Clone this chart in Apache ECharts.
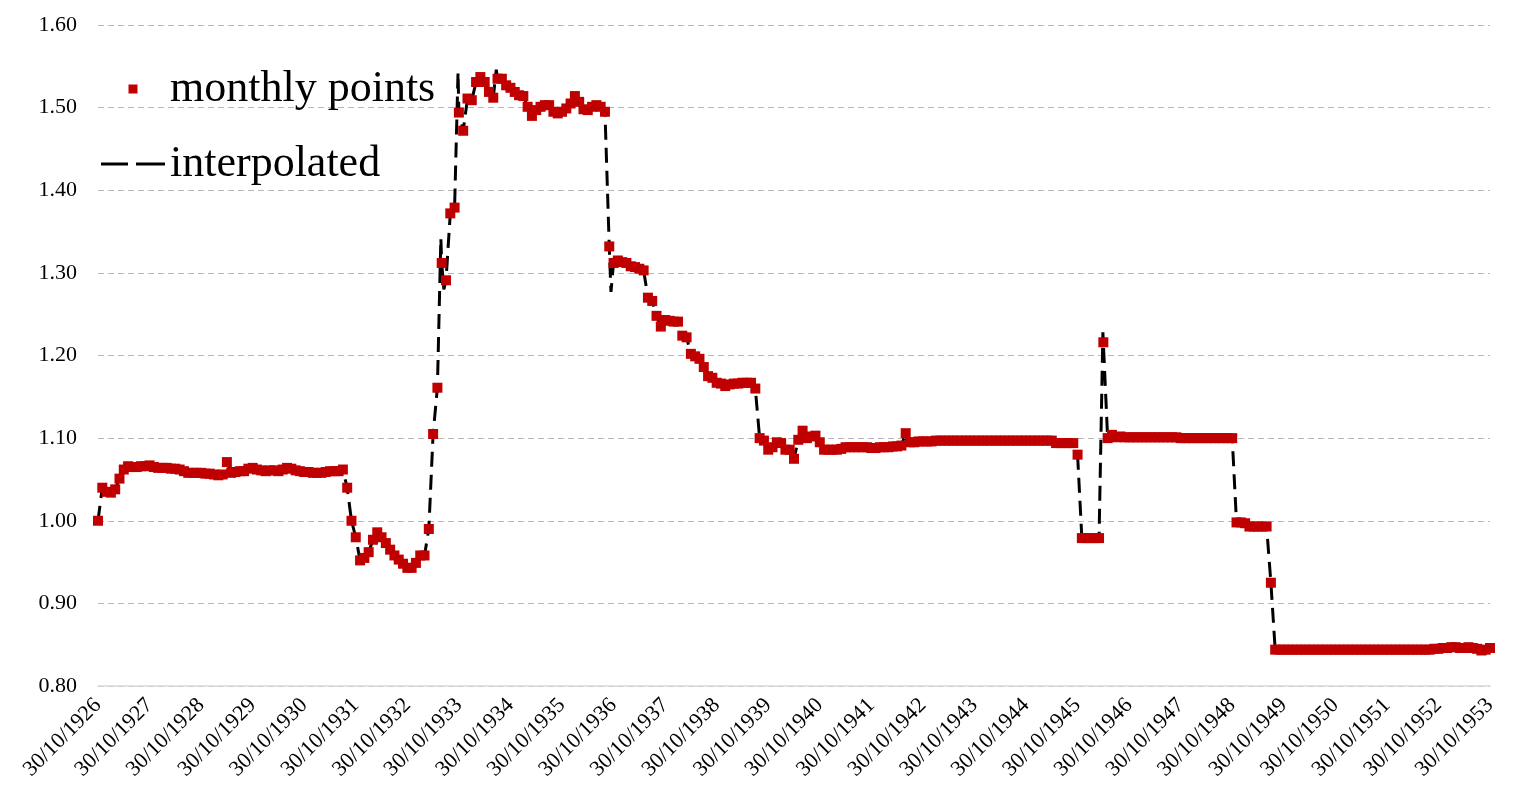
<!DOCTYPE html>
<html>
<head>
<meta charset="utf-8">
<script src="https://cdn.jsdelivr.net/npm/echarts@6/dist/echarts.min.js"></script>
<style>
html,body{margin:0;padding:0;background:#fff;}
#chart{width:1536px;height:809px;}
</style>
</head>
<body>
<div id="chart"></div>
<script>
// Tick labels for the x axis (one per year, every 12 months)
const yearLabels = [
  '30/10/1926','30/10/1927','30/10/1928','30/10/1929','30/10/1930','30/10/1931','30/10/1932',
  '30/10/1933','30/10/1934','30/10/1935','30/10/1936','30/10/1937','30/10/1938','30/10/1939',
  '30/10/1940','30/10/1941','30/10/1942','30/10/1943','30/10/1944','30/10/1945','30/10/1946',
  '30/10/1947','30/10/1948','30/10/1949','30/10/1950','30/10/1951','30/10/1952','30/10/1953'
];

// Monthly points, starting 30/10/1926, one value per month (Oct..Sep rows)
const monthlyPoints = [
  1.000,1.040,1.035,1.034,1.038,1.051,1.062,1.066,1.065,1.065,1.066,1.066, // 1926-27
  1.067,1.065,1.064,1.064,1.064,1.063,1.063,1.062,1.060,1.058,1.058,1.058, // 1927-28
  1.058,1.057,1.057,1.056,1.055,1.056,1.071,1.058,1.059,1.060,1.060,1.063, // 1928-29
  1.064,1.062,1.061,1.060,1.061,1.061,1.060,1.062,1.064,1.063,1.061,1.060, // 1929-30
  1.059,1.059,1.058,1.058,1.058,1.059,1.060,1.060,1.060,1.062,1.040,1.000, // 1930-31
  0.980,0.952,0.955,0.962,0.977,0.986,0.980,0.973,0.965,0.958,0.953,0.948, // 1931-32
  0.943,0.943,0.949,0.958,0.958,0.990,1.105,1.161,1.312,1.291,1.372,1.379, // 1932-33
  1.494,1.472,1.511,1.509,1.531,1.537,1.531,1.519,1.512,1.535,1.535,1.527, // 1933-34
  1.524,1.519,1.515,1.514,1.501,1.490,1.497,1.501,1.503,1.503,1.495,1.493, // 1934-35
  1.495,1.499,1.505,1.514,1.507,1.498,1.497,1.501,1.503,1.501,1.495,1.332, // 1935-36
  1.312,1.315,1.313,1.312,1.308,1.307,1.305,1.303,1.270,1.266,1.248,1.235, // 1936-37
  1.243,1.242,1.241,1.241,1.224,1.222,1.202,1.199,1.196,1.186,1.175,1.173, // 1937-38
  1.167,1.166,1.163,1.165,1.166,1.166,1.167,1.167,1.167,1.160,1.100,1.097, // 1938-39
  1.086,1.089,1.095,1.094,1.086,1.086,1.075,1.098,1.109,1.100,1.102,1.103, // 1939-40
  1.095,1.086,1.086,1.086,1.086,1.087,1.089,1.089,1.089,1.089,1.089,1.089, // 1940-41
  1.088,1.088,1.089,1.089,1.089,1.090,1.090,1.091,1.106,1.095,1.095,1.096, // 1941-42
  1.096,1.096,1.096,1.097,1.097,1.097,1.097,1.097,1.097,1.097,1.097,1.097, // 1942-43
  1.097,1.097,1.097,1.097,1.097,1.097,1.097,1.097,1.097,1.097,1.097,1.097, // 1943-44
  1.097,1.097,1.097,1.097,1.097,1.097,1.097,1.094,1.094,1.094,1.094,1.094, // 1944-45
  1.080,0.979,0.979,0.979,0.979,0.979,1.216,1.100,1.104,1.101,1.102,1.101, // 1945-46
  1.101,1.101,1.101,1.101,1.101,1.101,1.101,1.101,1.101,1.101,1.101,1.101, // 1946-47
  1.100,1.100,1.100,1.100,1.100,1.100,1.100,1.100,1.100,1.100,1.100,1.100, // 1947-48
  1.100,0.998,0.998,0.997,0.993,0.993,0.993,0.993,0.993,0.925,0.844,0.844, // 1948-49
  0.844,0.844,0.844,0.844,0.844,0.844,0.844,0.844,0.844,0.844,0.844,0.844, // 1949-50
  0.844,0.844,0.844,0.844,0.844,0.844,0.844,0.844,0.844,0.844,0.844,0.844, // 1950-51
  0.844,0.844,0.844,0.844,0.844,0.844,0.844,0.844,0.844,0.844,0.844,0.845, // 1951-52
  0.845,0.846,0.846,0.847,0.847,0.846,0.846,0.847,0.846,0.845,0.843,0.844, // 1952-53
  0.846                                                                    // 30/10/1953
];

// Extra turning points of the dashed interpolated line (month index, value)
const interpolatedExtremes = [
  [79.8, 1.342], [80.5, 1.280], [83.8, 1.543], [92.7, 1.546], [119.4, 1.277], [233.9, 1.228]
];

const pointData = monthlyPoints.map((v, i) => [i, v]);
const lineData = pointData.concat(interpolatedExtremes).sort((a, b) => a[0] - b[0]);

const FONT = 'Liberation Serif';
const chart = echarts.init(document.getElementById('chart'));
chart.setOption({
  backgroundColor: '#ffffff',
  animation: false,
  textStyle: { fontFamily: FONT },
  grid: { left: 98, right: 46, top: 25, bottom: 123, containLabel: false },
  legend: {
    orient: 'vertical',
    left: 96,
    top: 62,
    itemWidth: 64,
    itemHeight: 9,
    itemGap: 31,
    textStyle: { fontFamily: FONT, fontSize: 44, color: '#000' },
    data: [
      { name: 'monthly points', icon: 'path://M0,0L10,0L10,10L0,10Z' },
      { name: 'interpolated', icon: 'path://M0,0L27,0L27,3L0,3Z M35,0L64,0L64,3L35,3Z' }
    ]
  },
  xAxis: {
    type: 'value',
    min: 0,
    max: 324,
    interval: 12,
    splitLine: { show: false },
    axisTick: { show: false },
    axisLine: { show: true, lineStyle: { color: '#d9d9d9', width: 1.5 } },
    axisLabel: {
      rotate: 45,
      margin: 16,
      fontFamily: FONT,
      fontSize: 22,
      color: '#000',
      formatter: v => yearLabels[Math.round(v / 12)] || ''
    }
  },
  yAxis: {
    type: 'value',
    min: 0.8,
    max: 1.6,
    interval: 0.1,
    axisLine: { show: false },
    axisTick: { show: false },
    splitLine: { show: true, lineStyle: { color: '#b8b8b8', type: [6, 4], width: 1 } },
    axisLabel: {
      margin: 21,
      fontFamily: FONT,
      fontSize: 22,
      color: '#000',
      formatter: v => v.toFixed(2)
    }
  },
  series: [
    {
      name: 'interpolated',
      type: 'line',
      z: 2,
      data: lineData,
      symbol: 'none',
      smooth: false,
      lineStyle: { color: '#000', width: 3, type: [15, 8] },
      itemStyle: { color: '#000' }
    },
    {
      name: 'monthly points',
      type: 'scatter',
      z: 5,
      data: pointData,
      symbol: 'rect',
      symbolSize: 10,
      itemStyle: { color: '#C00000', opacity: 1 }
    }
  ]
});
</script>
</body>
</html>
